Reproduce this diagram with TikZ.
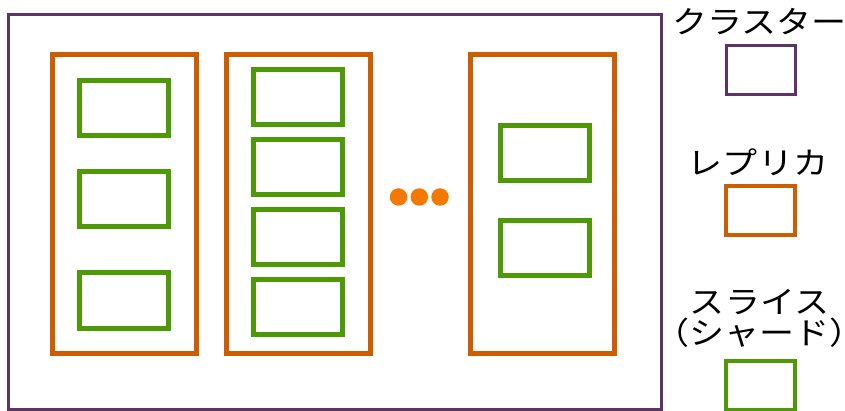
\documentclass[tikz,border=0pt]{standalone}
\usepackage{fontspec}
\setmainfont{Noto Sans CJK JP}
\newfontfamily\legendfont[FakeStretch=1.13]{Noto Sans CJK JP}
\definecolor{clusterc}{HTML}{5C3566}
\definecolor{replicac}{HTML}{CE5C00}
\definecolor{shardc}{HTML}{4E9A06}
\definecolor{dotc}{HTML}{F57900}
\tikzset{
  clusterbox/.style={draw=clusterc, line width=3pt, rectangle, inner sep=0pt},
  replicabox/.style={draw=replicac, line width=5pt, rectangle, inner sep=0pt, minimum width=144pt, minimum height=299pt},
  shardbox/.style={draw=shardc, line width=5pt, rectangle, inner sep=0pt, minimum width=89pt, minimum height=55pt},
  dotnode/.style={fill=dotc, circle, inner sep=0pt, minimum size=17.5pt},
  legendtext/.style={font=\legendfont\fontsize{31pt}{31.5pt}\selectfont, inner sep=0pt, align=center},
}
\begin{document}
\begin{tikzpicture}[x=1pt,y=-1pt]
\useasboundingbox (0,0) rectangle (845,411);
% cluster
\node[clusterbox, minimum width=652.5pt, minimum height=395pt] (cluster) at (334.75,211.75) {};
% replicas
\node[replicabox] (r1) at (124,204.25) {};
\node[replicabox] (r2) at (298.25,204.25) {};
\node[replicabox] (r3) at (542,204.25) {};
% shards replica 1
\node[shardbox] (s11) at (124,108) {};
\node[shardbox] (s12) at (124,199) {};
\node[shardbox] (s13) at (124,300.5) {};
% shards replica 2
\node[shardbox, minimum width=88.5pt] (s21) at (297.75,97.5) {};
\node[shardbox, minimum width=88.5pt] (s22) at (297.75,167.3) {};
\node[shardbox, minimum width=88.5pt] (s23) at (297.75,237.4) {};
\node[shardbox, minimum width=88.5pt] (s24) at (297.75,307.4) {};
% shards replica 3
\node[shardbox] (s31) at (545,153) {};
\node[shardbox] (s32) at (545,248.5) {};
% dots
\node[dotnode] (d1) at (398.5,197) {};
\node[dotnode] (d2) at (419.3,197) {};
\node[dotnode] (d3) at (440,197) {};
% legend
\node[legendtext] (lc) at (759.5,22) {クラスター};
\node[draw=clusterc, line width=3pt, minimum width=69pt, minimum height=49pt, inner sep=0pt] (lcb) at (760.5,70.5) {};
\node[legendtext] (lr) at (758,162) {レプリカ};
\node[draw=replicac, line width=4.5pt, minimum width=69pt, minimum height=49pt, inner sep=0pt] (lrb) at (760.5,210.5) {};
\node[legendtext] (ls) at (759.5,318.5) {スライス\\（シャード）};
\node[draw=shardc, line width=4.5pt, minimum width=69pt, minimum height=49pt, inner sep=0pt] (lsb) at (760.5,385.5) {};
\end{tikzpicture}
\end{document}
